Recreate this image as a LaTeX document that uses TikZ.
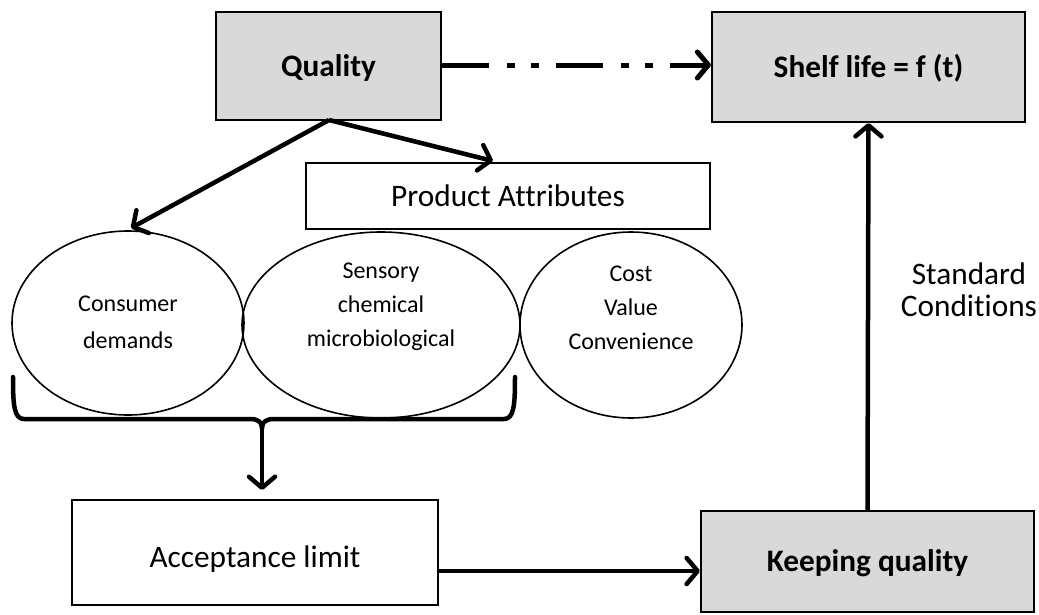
\documentclass[tikz,border=0pt]{standalone}
\usepackage{fontspec}
\setmainfont{Carlito}[Ligatures=NoCommon]
\usetikzlibrary{arrows.meta,shapes.geometric}
\begin{document}
\begin{tikzpicture}[x=1pt,y=-1pt,
  box/.style={draw=black, line width=2.2pt, inner sep=0pt, text height=20pt, text depth=0pt, font=\fontsize{31.3}{38}\selectfont},
  graybox/.style={box, fill=boxgray},
  oval/.style={draw=black, line width=1.6pt, ellipse, inner sep=0pt},
  ovaltext/.style={align=center, inner sep=0pt, font=\fontsize{24}{34}\selectfont},
  arr/.style={line width=4.5pt, -{Straight Barb[length=11pt,width=26pt,round]}},
  bracestyle/.style={line width=4.5pt, line cap=round, line join=round}
]
\definecolor{boxgray}{HTML}{D9D9D9}
\useasboundingbox (0,0) rectangle (1039,614);

\node[graybox, minimum width=225pt, minimum height=108pt] (quality) at (328.5,66) {\textbf{Quality}};
\node[graybox, minimum width=313pt, minimum height=110pt] (shelf) at (868.5,67) {\textbf{Shelf life = f (t)}};
\node[box, minimum width=404pt, minimum height=66pt] (attr) at (508,196) {Product Attributes};

\node[oval, minimum width=232pt, minimum height=184pt] (cons) at (128,323) {};
\node[oval, minimum width=278pt, minimum height=186pt] (sens) at (381,325) {};
\node[oval, minimum width=222pt, minimum height=186pt] (cost) at (631,325) {};
\node[ovaltext, font=\fontsize{24}{37}\selectfont] (constext) at (128,322) {Consumer\\demands};
\node[ovaltext] (senstext) at (381,307) {Sensory\\chemical\\microbiological};
\node[ovaltext] (costtext) at (631,308) {Cost\\Value\\Convenience};

\node[box, text height=29pt, minimum width=366pt, minimum height=105pt] (accept) at (255,552.5) {Acceptance limit};
\node[graybox, minimum width=333pt, minimum height=101pt] (keep) at (867.5,561.5) {\textbf{Keeping quality}};

\node[font=\fontsize{31.3}{32}\selectfont, align=center, inner sep=0pt] (std) at (969,290) {Standard\\Conditions};

% arrows from Quality
\coordinate (qfoot) at (329,120);
\coordinate (constop) at (131,228);
\coordinate (attrtop) at (493,161);
\draw[arr] (qfoot) -- (constop);
\draw[arr] (qfoot) -- (attrtop);

% dash-dot-dot arrow
\draw[arr, line width=5pt, dash pattern=on 47pt off 18pt on 8pt off 16pt on 8pt off 17pt]
  (quality.east |- 0,65) -- (shelf.west |- 0,65);

% brace
\coordinate (cusp) at (262,428);
\coordinate (bracetip) at (262,490);
\draw[bracestyle] (13,377) .. controls (13,405) and (14,419) .. (24,419) -- (250,419)
  .. controls (258,419) and (262,422) .. (cusp);
\draw[bracestyle] (515,377) .. controls (515,405) and (514,419) .. (504,419) -- (274,419)
  .. controls (266,419) and (262,422) .. (cusp);
\draw[arr] (cusp) -- (bracetip);

% bottom arrows
\coordinate (yline) at (0,571);
\draw[arr] (accept.east |- yline) -- (keep.west |- yline);
\draw[arr] (keep.north) -- (shelf.south);
\end{tikzpicture}
\end{document}
